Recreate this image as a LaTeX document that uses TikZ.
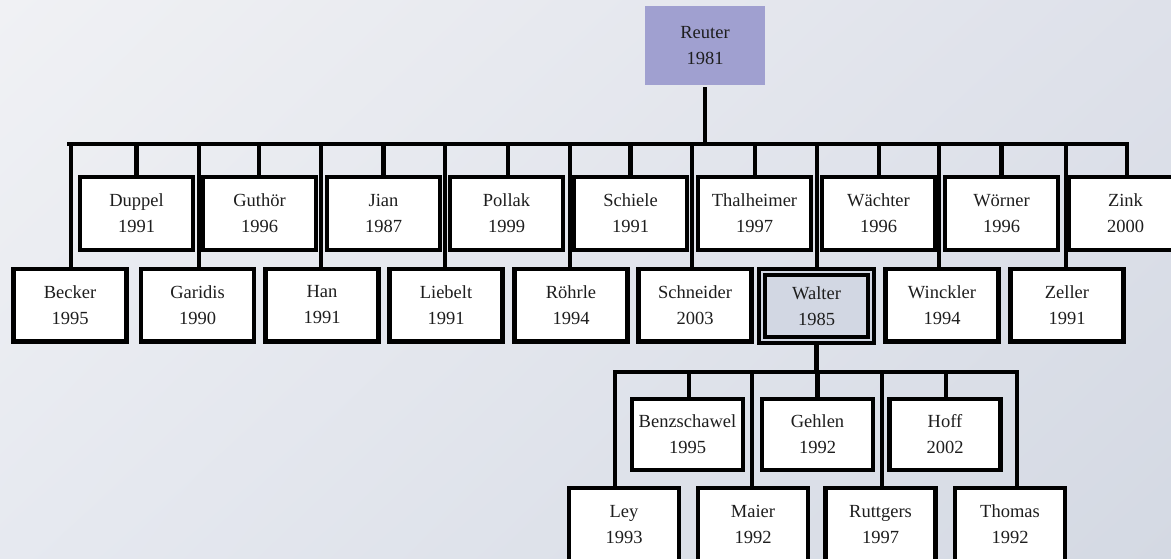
\documentclass[tikz,border=0pt]{standalone}
\usepackage{fontspec}
\setmainfont{Liberation Serif}
\usetikzlibrary{shadings}
\definecolor{bgUL}{HTML}{F0F1F4}
\definecolor{bgUR}{HTML}{DEE1EA}
\definecolor{bgLL}{HTML}{E6E9F0}
\definecolor{bgLR}{HTML}{D4D9E3}
\definecolor{rootfill}{HTML}{A0A0D0}
\definecolor{selfill}{HTML}{D2D7E3}
\definecolor{txt}{HTML}{1E1E1E}
\tikzset{
  person/.style={draw=black, line width=4.3pt, fill=white, rectangle,
    minimum width=113pt, minimum height=72.7pt, inner sep=0pt, align=center,
    text=txt, font=\fontsize{18.5}{26}\selectfont},
  rootbox/.style={person, draw=none, fill=rootfill, minimum width=120pt, minimum height=79pt},
  selbox/.style={person, fill=selfill, line width=4pt, double=selfill, double distance=1.6pt,
    minimum width=109pt, minimum height=68pt},
  conn/.style={line width=4.3pt, draw=black},
}
\begin{document}
\begin{tikzpicture}[x=1pt,y=-1pt]
\useasboundingbox (0,0) rectangle (1171,558);
\clip (0,0) rectangle (1171,558);
\shade[upper left=bgUL, upper right=bgUR, lower left=bgLL, lower right=bgLR] (0,0) rectangle (1171,558);

% root
\node[rootbox] (reuter) at (705,45.5) {Reuter\\1981};

% upper row
\node[person] (duppel)     at (136.5,213.5)  {Duppel\\1991};
\node[person] (guthoer)    at (259.5,213.5)  {Guthör\\1996};
\node[person] (jian)       at (383.5,213.5)  {Jian\\1987};
\node[person] (pollak)     at (506.5,213.5)  {Pollak\\1999};
\node[person] (schiele)    at (630.5,213.5)  {Schiele\\1991};
\node[person] (thalheimer) at (754.5,213.5)  {Thalheimer\\1997};
\node[person] (waechter)   at (878.5,213.5)  {Wächter\\1996};
\node[person] (woerner)    at (1001.5,213.5) {Wörner\\1996};
\node[person] (zink)       at (1125.5,213.5) {Zink\\2000};

% lower row
\node[person] (becker)    at (70,305)    {Becker\\1995};
\node[person] (garidis)   at (197.5,305) {Garidis\\1990};
\node[person] (han)       at (322,305)   {Han\\1991};
\node[person] (liebelt)   at (446,305)   {Liebelt\\1991};
\node[person] (roehrle)   at (571,305)   {Röhrle\\1994};
\node[person] (schneider) at (695,305)   {Schneider\\2003};
\node[selbox] (walter)    at (816.5,306) {Walter\\1985};
\node[person] (winckler)  at (942,305)   {Winckler\\1994};
\node[person] (zeller)    at (1067,305)  {Zeller\\1991};

% sub tree of Walter
\node[person, minimum width=111pt, minimum height=71pt] (benz)  at (687.5,434.5) {Benzschawel\\1995};
\node[person, minimum width=111pt, minimum height=71pt] (gehlen) at (817.5,434.5) {Gehlen\\1992};
\node[person, minimum width=111pt, minimum height=71pt] (hoff)   at (945,434.5)   {Hoff\\2002};

\node[person, minimum width=110pt] (ley)      at (624,524.5)   {Ley\\1993};
\node[person, minimum width=110pt] (maier)    at (753,524.5)   {Maier\\1992};
\node[person, minimum width=110pt] (ruttgers) at (880.5,524.5) {Ruttgers\\1997};
\node[person, minimum width=110pt] (thomas)   at (1010,524.5)  {Thomas\\1992};

% main bus
\coordinate (bus) at (0,144);
\coordinate (busL) at (67,144);
\coordinate (busR) at (1129,144);
\draw[conn] (reuter.south) -- (reuter.south |- bus);
\draw[conn] (busL) -- (busR);
\foreach \n/\x in {duppel/136.5, guthoer/259, jian/383.5, pollak/508, schiele/630.5, thalheimer/755, waechter/879, woerner/1001.5, zink/1127}
  \draw[conn] (\x,144) -- (\n.north -| \x,0);
\foreach \n/\x in {becker/71, garidis/199, han/321, liebelt/445, roehrle/570, schneider/692, walter/817, winckler/939, zeller/1066}
  \draw[conn] (\x,144) -- (\n.north -| \x,0);

% sub bus
\coordinate (sbus) at (0,372);
\draw[conn] (walter.south) -- (walter.south |- sbus);
\draw[conn] (613,372) -- (1019,372);
\draw[conn] (689,372) -- (benz.north -| 689,0);
\draw[conn] (817.5,372) -- (gehlen.north);
\draw[conn] (946,372) -- (hoff.north -| 946,0);
\draw[conn] (615,372) -- (ley.north -| 615,0);
\draw[conn] (752,372) -- (maier.north -| 752,0);
\draw[conn] (882,372) -- (ruttgers.north -| 882,0);
\draw[conn] (1017,372) -- (thomas.north -| 1017,0);
\end{tikzpicture}
\end{document}
